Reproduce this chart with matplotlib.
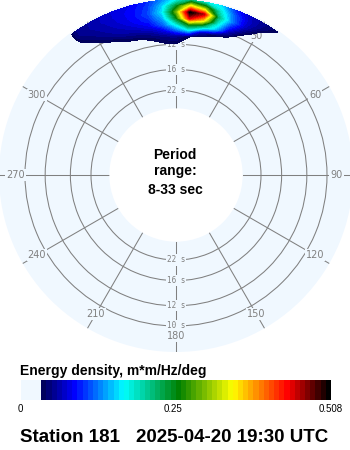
import numpy as np
import matplotlib
matplotlib.use('Agg')
import matplotlib.pyplot as plt
from matplotlib.colors import LinearSegmentedColormap, Normalize
from matplotlib.cm import ScalarMappable

# directional wave spectrum
dir_deg = [-40, -35, -30, -25, -20, -15, -10, -5, 0, 5, 10, 15, 20, 25, 30, 35, 40]
freq_hz = [0.080, 0.085, 0.090, 0.095, 0.100, 0.105, 0.110, 0.115, 0.120]
e_080 = [0, 0, 0, 0, 0, 0, 0.005, 0.015, 0.02, 0.015, 0.01, 0.005, 0, 0, 0, 0, 0]
e_085 = [0, 0, 0, 0, 0.005, 0.015, 0.025, 0.035, 0.038, 0.025, 0.015, 0.01, 0.005, 0, 0, 0, 0]
e_090 = [0, 0, 0.005, 0.012, 0.025, 0.03, 0.04, 0.05, 0.055, 0.036, 0.02, 0.02, 0.01, 0.005, 0, 0, 0]
e_095 = [0, 0.005, 0.02, 0.028, 0.042, 0.05, 0.06, 0.08, 0.12, 0.16, 0.07, 0.038, 0.025, 0.01, 0.005, 0, 0]
e_100 = [0, 0.012, 0.03, 0.045, 0.06, 0.07, 0.085, 0.12, 0.18, 0.26, 0.22, 0.15, 0.06, 0.02, 0.008, 0, 0]
e_105 = [0, 0.02, 0.045, 0.06, 0.07, 0.085, 0.10, 0.14, 0.25, 0.44, 0.36, 0.19, 0.10, 0.045, 0.015, 0.005, 0]
e_110 = [0, 0.038, 0.055, 0.065, 0.078, 0.09, 0.11, 0.16, 0.29, 0.505, 0.45, 0.22, 0.13, 0.07, 0.03, 0.01, 0]
e_115 = [0, 0.05, 0.06, 0.07, 0.08, 0.09, 0.105, 0.15, 0.24, 0.36, 0.30, 0.19, 0.12, 0.075, 0.05, 0.02, 0]
e_120 = [0, 0.05, 0.06, 0.07, 0.08, 0.085, 0.10, 0.13, 0.17, 0.22, 0.18, 0.16, 0.10, 0.07, 0.055, 0.038, 0]

periods = [10, 12, 16, 22]
dir_labels = [0, 30, 60, 90, 120, 150, 180, 210, 240, 270, 300, 330]
e_max = 0.508
cbar_ticks = [0, 0.25, 0.508]
cbar_ticklabels = ['0', '0.25', '0.508']
station = 'Station 181'
stamp = '2025-04-20 19:30 UTC'

BG = '#F0F8FF'
GRAY = '#808080'

cmap = LinearSegmentedColormap.from_list('cdip', [
    (0.0, BG), (0.0667, BG), (0.0667, '#00005A'), (0.17, '#0000FF'),
    (0.33, '#00FFFF'), (0.51, '#008000'), (0.685, '#FFFF00'),
    (0.865, '#FF0000'), (1.0, '#000000')], N=60)

energy = np.array([e_080, e_085, e_090, e_095, e_100, e_105, e_110, e_115, e_120])

fig = plt.figure(figsize=(3.5, 4.5), dpi=100)

R = 177.0  # px
cx, cy = 176.0, 175.0
ax = fig.add_axes([(cx - R) / 350, (450 - cy - R) / 450, 2 * R / 350, 2 * R / 450],
                  projection='polar')
ax.set_theta_zero_location('N')
ax.set_theta_direction(-1)
ax.set_facecolor(BG)
ax.set_rorigin(-30 / 1210)
ax.set_ylim(1 / 33, (R - 30) / 1210)
ax.set_axisbelow(True)
ax.set_xticks(np.radians(dir_labels))
ax.set_yticks([1 / p for p in periods])
ax.set_xticklabels([])
ax.set_yticklabels([])
ax.grid(True, color=GRAY, linewidth=0.75, linestyle='-')
for s in ax.spines.values():
    s.set_visible(False)
    s.set_edgecolor('none')
    s.set_linewidth(0)

levels = np.arange(4, 61) * e_max / 60
ax.contourf(np.radians(dir_deg), freq_hz, energy, levels=levels, cmap=cmap,
            norm=Normalize(0, e_max), zorder=1)

for p in periods:
    for th in (0, 180):
        ax.text(np.radians(th), 1 / p, f'{p} s', ha='center', va='center', fontsize=5.5,
                family='DejaVu Sans Mono', color=GRAY,
                bbox=dict(facecolor=BG, edgecolor='none', pad=0.8), zorder=0.8)
for d in dir_labels:
    ax.text(np.radians(d), 0.108, str(d), ha='center', va='center', fontsize=7,
            color=GRAY, bbox=dict(facecolor=BG, edgecolor='none', pad=0.8), zorder=0.9)

bold = dict(family='Liberation Sans', weight='bold', color='black')
fig.text(0.5, 1 - 155 / 450, 'Period', ha='center', va='center', fontsize=10, **bold)
fig.text(0.5, 1 - 171 / 450, 'range:', ha='center', va='center', fontsize=10, **bold)
fig.text(0.5, 1 - 190 / 450, '8-33 sec', ha='center', va='center', fontsize=10, **bold)

# colour bar
fig.text(20.5 / 350, 1 - 371 / 450, 'Energy density, m*m/Hz/deg', ha='left', va='center',
         fontsize=10, **bold)
cax = fig.add_axes([20.5 / 350, 1 - 400 / 450, 310.5 / 350, 20 / 450])
sm = ScalarMappable(norm=Normalize(0, e_max), cmap=cmap)
cb = fig.colorbar(sm, cax=cax, orientation='horizontal', ticks=cbar_ticks)
cb.outline.set_visible(False)
cb.set_ticklabels(cbar_ticklabels)
cax.tick_params(length=0, labelsize=7, pad=3)
for t in cax.get_xticklabels():
    t.set_family('Liberation Sans')

fig.text(20.5 / 350, 1 - 437 / 450, station, ha='left', va='center', fontsize=13.5, **bold)
fig.text(328 / 350, 1 - 437 / 450, stamp, ha='right', va='center', fontsize=13.5, **bold)

fig.savefig('out.png', dpi=100, facecolor='white')
